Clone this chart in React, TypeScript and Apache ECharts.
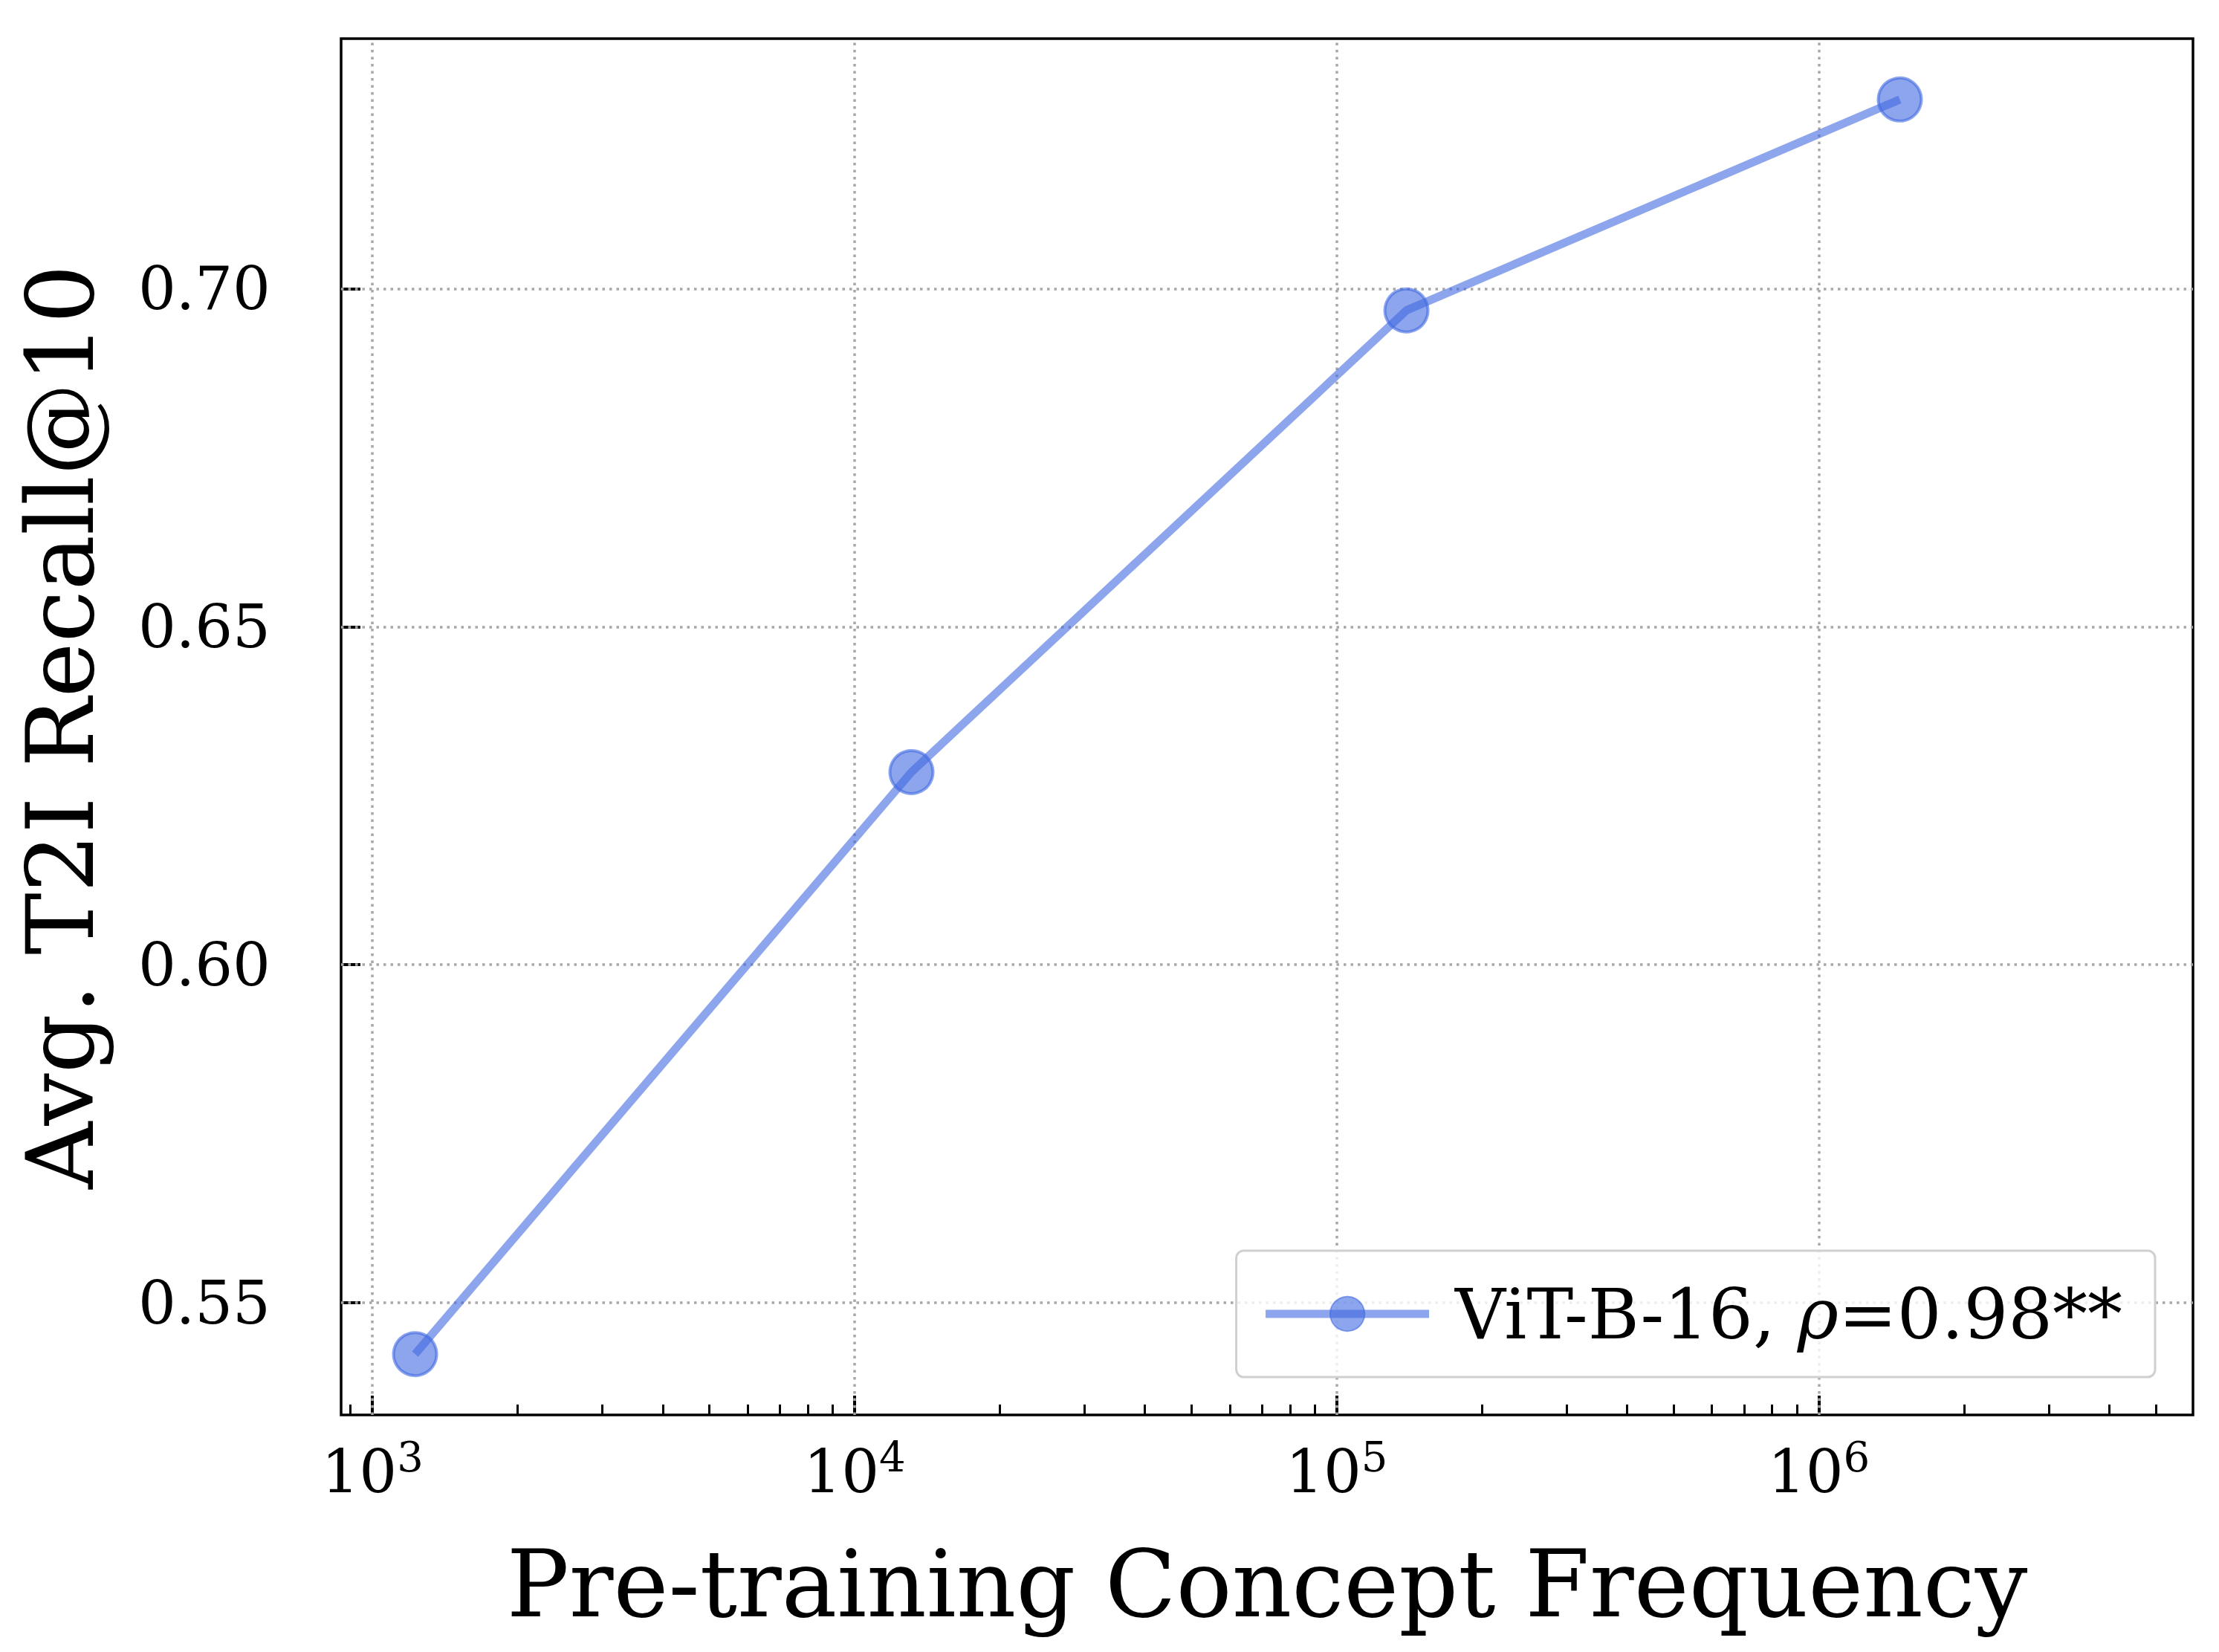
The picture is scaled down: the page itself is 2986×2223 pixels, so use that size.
import { useEffect, useRef } from "react";
import * as echarts from "echarts";

const frequency = [1226, 13120, 139500, 1472000];
const recall = [0.5424, 0.6285, 0.6968, 0.728];
const xMajor = [3, 4, 5, 6];
const yTicks = [0.55, 0.6, 0.65, 0.7];
const seriesName = "ViT-B-16";
const rho = "0.98**";

const FONT = "DejaVu Serif";
const BLUE = "rgba(65,105,225,0.6)";

const xMinor: number[] = [];
for (let e = 2; e <= 6; e++) {
  for (let k = 2; k <= 9; k++) {
    const v = e + Math.log10(k);
    if (v > 2.935 && v < 6.776) xMinor.push(v);
  }
}

export default function App() {
  const chartRef = useRef<HTMLDivElement | null>(null);

  useEffect(() => {
    document.body.style.margin = "0";
    if (!chartRef.current) {
      return;
    }
    const chart = echarts.init(chartRef.current, undefined, { renderer: "svg" });
    const gridDash = { color: "#a8a8a8", width: 3.5, type: [3.5, 6] as number[] };
    chart.setOption({
      animation: false,
      backgroundColor: "#fff",
      grid: {
        left: 459,
        right: 35,
        top: 52,
        bottom: 319,
        show: true,
        borderColor: "#000",
        borderWidth: 3.5,
      },
      legend: {
        right: 86,
        bottom: 370,
        padding: [38, 44, 38, 34],
        borderColor: "#d0d0d0",
        borderWidth: 3,
        borderRadius: 10,
        backgroundColor: "rgba(255,255,255,0.8)",
        itemWidth: 220,
        itemHeight: 58,
        itemGap: 0,
        lineStyle: { width: 11 },
        formatter: () => `${seriesName}, {i|ρ}=${rho}`,
        textStyle: {
          fontFamily: FONT,
          fontSize: 94,
          color: "#000",
          padding: [0, 0, 0, 30],
          rich: { i: { fontFamily: FONT, fontStyle: "italic", fontSize: 94 } },
        },
      },
      xAxis: [
        {
          type: "value",
          min: 2.935,
          max: 6.776,
          name: "Pre-training Concept Frequency",
          nameLocation: "middle",
          nameGap: 165,
          nameTextStyle: { fontFamily: FONT, fontSize: 125, color: "#000" },
          axisLine: { show: false },
          splitLine: { show: false },
          axisTick: {
            inside: true,
            length: 26,
            customValues: xMajor,
            lineStyle: { color: "#000", width: 4 },
          },
          axisLabel: {
            customValues: xMajor,
            margin: 28,
            formatter: (v: number) => `10{s|${Math.round(v)}}`,
            fontFamily: FONT,
            fontSize: 80,
            color: "#000",
            rich: {
              s: { fontFamily: FONT, fontSize: 56, color: "#000", verticalAlign: "top", padding: [0, 0, 40, 0] },
            },
          },
        },
        {
          type: "value",
          min: 2.935,
          max: 6.776,
          position: "bottom",
          axisLine: { show: false },
          splitLine: { show: false },
          axisLabel: { show: false },
          axisTick: {
            inside: true,
            length: 14,
            customValues: xMinor,
            lineStyle: { color: "#000", width: 3 },
          },
        },
      ],
      yAxis: {
        type: "value",
        min: 0.5334,
        max: 0.737,
        name: "Avg. T2I Recall@10",
        nameLocation: "middle",
        nameGap: 315,
        nameTextStyle: { fontFamily: FONT, fontSize: 125, color: "#000" },
        axisLine: { show: false },
        splitLine: { show: false },
        axisTick: {
          inside: true,
          length: 26,
          customValues: yTicks,
          lineStyle: { color: "#000", width: 4 },
        },
        axisLabel: {
          customValues: yTicks,
          margin: 95,
          formatter: (v: number) => v.toFixed(2),
          fontFamily: FONT,
          fontSize: 80,
          color: "#000",
        },
      },
      series: [
        {
          name: seriesName,
          type: "line",
          data: frequency.map((f, i) => [Math.log10(f), recall[i]]),
          symbol: "circle",
          symbolSize: 58,
          lineStyle: { color: BLUE, width: 11 },
          itemStyle: { color: BLUE, borderColor: BLUE, borderWidth: 4 },
          z: 5,
          markLine: {
            silent: true,
            symbol: "none",
            label: { show: false },
            lineStyle: gridDash,
            z: 1,
            data: [
              ...xMajor.map((v) => ({ xAxis: v })),
              ...yTicks.map((v) => ({ yAxis: v })),
            ],
          },
        },
      ],
    });
    return () => chart.dispose();
  }, []);

  return <div ref={chartRef} style={{ width: 2986, height: 2223 }} />;
}
